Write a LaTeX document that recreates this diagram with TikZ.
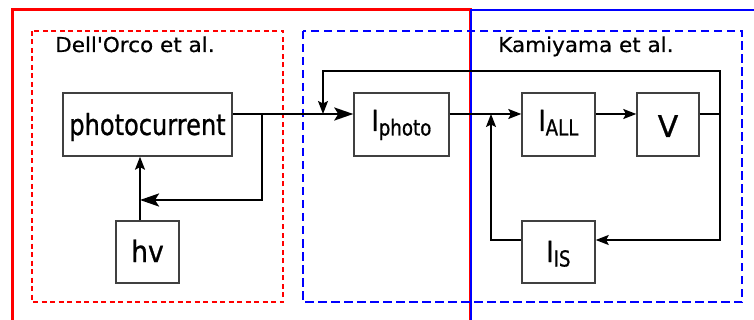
\documentclass[tikz,border=0pt]{standalone}
\usetikzlibrary{arrows.meta,calc}
\font\boxfnt="DejaVu Sans:extend=0.83;embolden=0.8" at 29pt
\font\subfnt="DejaVu Sans:extend=0.83;embolden=0.8" at 22pt
\font\vfnt="DejaVu Sans:embolden=0.8" at 30pt
\font\hvfnt="DejaVu Sans:extend=0.9;embolden=0.8" at 29.5pt
\font\labfnt="DejaVu Sans:extend=1.05;embolden=0.5" at 20.5pt
\newcommand\lowtxt[1]{\raisebox{-4.5pt}{\subfnt #1}}
\begin{document}
\begin{tikzpicture}[x=1pt,y=-1pt,
  blk/.style={draw=black!75, line width=1.4pt, fill=white, inner sep=0pt,
              text depth=0pt, font=\boxfnt},
  conn/.style={line width=1.6pt, -{Stealth[length=13pt,width=10pt,inset=2.5pt]}},
  thickc/.style={line width=2.5pt, -{Stealth[length=19pt,width=13pt,inset=4pt]}},
  lab/.style={anchor=base west, inner sep=0pt, font=\labfnt},
  redsolid/.style={red, line width=3pt},
  bluesolid/.style={blue, line width=2.6pt},
  reddash/.style={red, line width=2pt, dash pattern=on 5pt off 3.5pt},
  bluedash/.style={blue, line width=2.8pt, dash pattern=on 8.5pt off 4.5pt}]
\useasboundingbox (0,0) rectangle (754,320);
\clip (0,0) rectangle (754,320);

% outer solid frames
\draw[redsolid] (12,330) -- (12,10) -- (470.5,10) -- (470.5,330);
\draw[bluesolid] (471,330) -- (471,10) -- (770,10);

% dashed frames
\draw[reddash] (32,31) rectangle (283,302);
\draw[bluedash] (303,31) rectangle (742,302);

% labels
\node[lab] (dell) at (55,52) {Dell'Orco et al.};
\node[lab] (kami) at (498,52) {Kamiyama et al.};

% blocks
\node[blk, minimum width=169pt, minimum height=63pt, text height=21pt] (pc) at (147.5,124.5) {photocurrent};
\node[blk, minimum width=63pt, minimum height=62pt, text height=20pt, font=\hvfnt] (hv) at (147.5,252) {hv};
\node[blk, minimum width=95pt, minimum height=63pt, text height=13pt] (ip) at (401.5,124.5) {I\lowtxt{photo}};
\node[blk, minimum width=73pt, minimum height=63pt, text height=13pt] (ia) at (558.5,124.5) {I\lowtxt{ALL}};
\node[blk, minimum width=62pt, minimum height=63pt, text height=25pt, font=\vfnt] (v) at (668,124.5) {V};
\node[blk, minimum width=73pt, minimum height=62pt, text height=20pt] (is) at (558.5,252) {I\lowtxt{IS}};

% helper coordinates
\coordinate (row) at (0,114);
\coordinate (top) at (0,71);
\coordinate (bot) at (0,240);
\coordinate (fb) at (0,200);
\coordinate (br) at (262,114);
\coordinate (hvx) at (140,0);
\coordinate (rx) at (720,0);
\coordinate (lx) at (323,0);
\coordinate (jx) at (491,0);

% left part (thick)
\draw[thickc] (pc.east |- row) -- (ip.west |- row);
\draw[thickc] (br) |- (hvx |- fb);
\draw[conn] (hvx |- hv.north) -- (hvx |- pc.south);

% right part
\draw[conn] (ip.east |- row) -- (ia.west |- row);
\draw[conn] (ia.east |- row) -- (v.west |- row);
\draw[conn] (v.east |- row) -- (rx |- row) -- (rx |- top) -- (lx |- top) -- (lx |- row);
\draw[conn] (rx |- row) -- (rx |- bot) -- (is.east |- bot);
\draw[conn] (is.west |- bot) -- (jx |- bot) -- (jx |- row);
\end{tikzpicture}
\end{document}
